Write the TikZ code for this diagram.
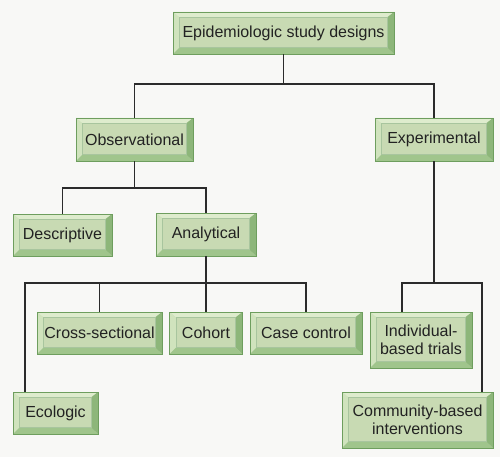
\documentclass[tikz,border=0pt]{standalone}
\usepackage{fontspec}
\setmainfont{Liberation Sans}
\definecolor{boxedge}{HTML}{6E9E5E}
\definecolor{boxface}{HTML}{C8DAB3}
\definecolor{bevtop}{HTML}{DEECCD}
\definecolor{bevleft}{HTML}{D0E3BD}
\definecolor{bevright}{HTML}{8DB67A}
\definecolor{bevbottom}{HTML}{A0C58C}
\definecolor{boxtext}{HTML}{222222}
\definecolor{linkcol}{HTML}{2B2B2B}
\definecolor{paper}{HTML}{F8F8F6}
\tikzset{
  bx/.style={draw=boxedge, line width=0.8pt, fill=boxface, minimum height=42pt,
    inner sep=0pt, align=center, text=boxtext,
    font=\fontsize{16}{17.5}\selectfont,
    path picture={
      \path (path picture bounding box.north west) coordinate (nw)
            (path picture bounding box.north east) coordinate (ne)
            (path picture bounding box.south east) coordinate (se)
            (path picture bounding box.south west) coordinate (sw);
      \path ([shift={(6.5pt,-5.5pt)}]nw) coordinate (inw)
            ([shift={(-7pt,-5.5pt)}]ne) coordinate (ine)
            ([shift={(-7pt,6.5pt)}]se) coordinate (ise)
            ([shift={(6.5pt,6.5pt)}]sw) coordinate (isw);
      \fill[bevtop] (nw) -- (ne) -- (ine) -- (inw) -- cycle;
      \fill[bevleft] (nw) -- (inw) -- (isw) -- (sw) -- cycle;
      \fill[bevright] (ne) -- (se) -- (ise) -- (ine) -- cycle;
      \fill[bevbottom] (sw) -- (isw) -- (ise) -- (se) -- cycle;
      \draw[boxedge!60, line width=0.4pt] (inw) rectangle (ise);
    }},
  link/.style={draw=linkcol, line width=1.6pt}
}
\begin{document}
\begin{tikzpicture}[x=1pt, y=-1pt]
  \fill[paper] (0,0) rectangle (500,457);
  \useasboundingbox (0,0) rectangle (500,457);

  \node[bx, minimum width=221pt] (top) at (283.5,33) {Epidemiologic study designs};
  \node[bx, minimum width=117pt, minimum height=43pt] (obs) at (134.5,139.5) {Observational};
  \node[bx, minimum width=118pt, minimum height=43pt] (exp) at (434,139.5) {Experimental};
  \node[bx, minimum width=99pt] (desc) at (62.5,235) {Descriptive};
  \node[bx, minimum width=100pt, minimum height=43pt] (anal) at (206,234.5) {Analytical};
  \node[bx, minimum width=125pt] (cross) at (99.5,333) {Cross-sectional};
  \node[bx, minimum width=73pt] (coh) at (206,333) {Cohort};
  \node[bx, minimum width=112pt] (case) at (306,333) {Case control};
  \node[bx, minimum width=102pt, minimum height=56pt] (indiv) at (421,340) {Individual-\\based trials};
  \node[bx, minimum width=85pt] (eco) at (55.5,413) {Ecologic};
  \node[bx, minimum width=151pt, minimum height=56pt] (comm) at (417.5,420) {Community-based\\interventions};

  \coordinate (j1) at (283.5,84);
  \coordinate (j2) at (134.5,188);
  \coordinate (j3) at (206,283);
  \coordinate (j4) at (434,283);
  \coordinate (ecotop) at (25,392);
  \coordinate (indtop) at (402,312);
  \coordinate (comtop) at (482,392);

  \draw[link] (top) -- (j1);
  \draw[link] (j1) -| (obs);
  \draw[link] (j1) -| (exp);
  \draw[link] (obs) -- (j2);
  \draw[link] (j2) -| (desc);
  \draw[link] (j2) -| (anal);
  \draw[link] (anal) -- (coh);
  \draw[link] (j3) -| (ecotop);
  \draw[link] (j3) -| (cross);
  \draw[link] (j3) -| (case);
  \draw[link] (exp) -- (j4);
  \draw[link] (j4) -| (indtop);
  \draw[link] (j4) -| (comtop);
\end{tikzpicture}
\end{document}
